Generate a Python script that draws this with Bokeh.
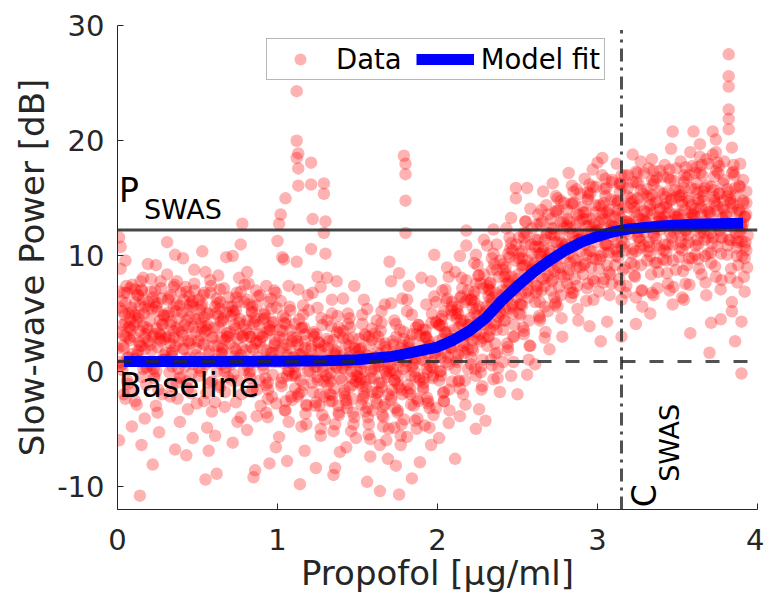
import math
from bokeh.plotting import figure
from bokeh.models import Range1d, Label, FixedTicker
from bokeh.embed import file_html
from bokeh.resources import INLINE

# ---------------- data ----------------
# scattered / outlying points
conc_a = [0.01,0.02,0.03,0.04,0.05,0.06,0.07,0.08,0.09,0.02,0.04,0.06,0.08,0.03,0.05,0.07,0.09,0.01,0.05,0.08,
          0.11,0.12,0.13,0.14,0.15,0.16,0.17,0.18,0.19,0.12,0.14,0.16,0.18,0.11,0.13,0.15,0.17,0.19,0.14,0.16,
          0.21,0.22,0.23,0.24,0.25,0.26,0.27,0.28,0.29,0.22,0.24,0.26,0.28,0.21,0.23,0.25,0.27,0.29,
          0.31,0.32,0.33,0.34,0.35,0.36,0.37,0.38,0.39,0.32,0.34,0.36,0.38,0.31,0.33,0.35,0.37,0.39,
          0.41,0.42,0.43,0.44,0.45,0.46,0.47,0.48,0.49,0.42,0.44,0.46,0.48,0.41,0.43,0.45,0.47]
power_a = [11.6,10.8,5.2,3.1,-2.4,6.8,1.2,4.5,-4.8,8.9,2.0,-0.8,7.2,0.6,5.9,3.8,-1.6,-6.0,9.6,2.7,
           7.1,4.3,1.8,-10.8,-6.4,6.2,2.9,0.3,5.4,-2.9,3.5,8.1,-1.2,4.9,6.6,2.2,-4.1,9.3,0.9,3.9,
           6.9,3.0,-0.4,5.6,2.1,-5.3,7.8,4.1,1.4,-8.1,9.2,3.3,-2.0,0.5,6.0,-3.6,2.6,4.8,
           11.2,5.1,2.4,-1.3,7.3,10.1,3.8,0.2,-4.4,6.4,1.6,-6.8,4.6,8.4,-2.2,2.9,5.8,-0.6,
           9.8,4.0,1.1,-3.3,6.5,2.7,-5.8,7.6,3.4,0.4,5.3,-1.9,8.8,2.0,-7.3,4.7,6.1]

conc_b = [0.51,0.52,0.53,0.54,0.55,0.56,0.57,0.58,0.59,0.52,0.54,0.56,0.58,0.51,0.53,0.55,0.57,
          0.61,0.62,0.63,0.64,0.65,0.66,0.67,0.68,0.69,0.62,0.64,0.66,0.68,0.61,0.63,0.65,0.67,
          0.71,0.72,0.73,0.74,0.75,0.76,0.77,0.78,0.79,0.72,0.74,0.76,0.78,0.71,0.73,0.75,0.77,
          0.81,0.82,0.83,0.84,0.85,0.86,0.87,0.88,0.89,0.82,0.84,0.86,0.88,0.81,0.83,0.85,0.87,
          0.91,0.92,0.93,0.94,0.95,0.96,0.97,0.98,0.99,0.92,0.94,0.96,0.98,0.91,0.93,0.95,0.97]
power_b = [6.2,3.1,10.4,-2.6,-9.4,5.0,1.5,7.9,-0.9,4.2,2.3,-4.9,6.8,0.3,3.7,8.6,-6.9,
           5.6,-8.9,2.2,7.1,0.6,4.4,-3.1,9.9,3.0,6.3,-1.4,1.8,5.1,-5.6,8.3,2.9,0.0,
           4.8,10.0,1.3,-2.7,6.0,3.2,11.0,12.8,0.1,-6.2,5.3,8.1,2.0,-0.8,4.0,-4.4,6.9,
           8.6,3.3,-0.6,5.2,1.9,-8.6,-3.9,6.5,2.6,7.6,-1.8,4.3,0.8,-5.1,3.0,-9.2,5.7,
           4.5,1.0,7.4,-2.4,3.6,6.3,-0.3,2.2,-6.6,5.0,-4.0,1.6,7.0,3.0,-1.2,-8.0,4.2]

conc_c = [1.00,1.02,1.04,1.05,1.01,1.03,1.05,1.07,1.09,1.02,1.04,1.06,1.08,1.01,1.03,1.05,1.07,1.09,1.06,1.08,
          1.12,1.12,1.13,1.12,1.13,1.13,1.12,1.13,1.11,1.14,1.15,1.16,1.17,1.18,1.19,1.11,1.15,1.17,1.19,1.14,1.16,1.18,
          1.21,1.21,1.22,1.21,1.25,1.22,1.23,1.24,1.25,1.26,1.27,1.28,1.29,1.22,1.24,1.26,1.28,1.23,1.27,
          1.29,1.29,1.30,1.29,1.30,1.31,1.32,1.33,1.34,1.35,1.36,1.37,1.38,1.39,1.32,1.34,1.36,1.38,1.31,1.35,
          1.41,1.42,1.43,1.44,1.45,1.46,1.47,1.48,1.49,1.42,1.44,1.46,1.48,1.41,1.43,1.45,1.47,1.37,1.36]
power_c = [11.3,13.6,9.7,15.0,12.8,9.9,4.6,1.2,-2.5,6.1,2.8,-0.4,5.3,-5.7,3.5,-3.4,7.4,0.7,-7.8,2.0,
           24.3,20.0,18.9,18.5,17.6,16.1,9.5,7.1,4.1,1.5,-1.8,5.7,2.6,-4.6,6.6,-0.2,3.7,-6.9,0.9,-9.8,4.9,-2.9,
           18.1,16.2,13.2,10.6,8.2,3.2,0.4,-2.7,5.5,1.9,-5.0,4.0,-0.9,6.8,-8.4,2.5,-3.8,0.9,7.3,
           16.3,15.4,13.0,12.0,10.2,4.4,1.0,-2.0,6.2,2.7,-4.6,0.3,3.8,-7.0,-0.6,5.0,1.8,-3.0,8.1,-9.0,
           3.5,0.2,-2.8,5.0,1.6,-5.2,2.9,7.4,-0.9,-1.7,4.1,0.8,-4.0,6.3,-6.6,2.2,-2.4,7.8,-8.4]

conc_d = [1.51,1.52,1.53,1.54,1.55,1.56,1.57,1.58,1.59,1.52,1.54,1.56,1.58,1.51,1.53,1.55,1.57,
          1.61,1.62,1.63,1.64,1.65,1.66,1.67,1.68,1.69,1.62,1.64,1.66,1.68,1.61,1.63,1.65,1.67,
          1.70,1.71,1.76,1.71,1.72,1.73,1.74,1.75,1.76,1.77,1.78,1.79,1.72,1.74,1.76,1.78,1.73,1.77,1.76,
          1.79,1.80,1.80,1.80,1.80,1.81,1.82,1.83,1.84,1.85,1.86,1.87,1.88,1.89,1.82,1.84,1.86,1.88,1.81,
          1.91,1.92,1.93,1.94,1.95,1.96,1.97,1.98,1.99,1.92,1.94,1.96,1.98,1.91,1.93,1.95,1.97,1.90,1.84]
power_d = [2.8,-0.7,4.9,6.2,-3.5,-9.6,1.3,-5.9,3.7,0.2,-2.2,5.4,-7.4,1.9,-1.3,3.1,-4.6,
           3.3,-1.9,0.8,-10.4,5.2,-4.8,2.1,-0.2,-7.6,4.4,1.5,-3.1,-6.0,0.4,3.0,-1.0,5.8,
           9.5,7.8,8.5,5.9,2.6,-0.8,4.1,-3.6,1.2,-6.4,-2.0,3.4,0.1,-8.2,-10.7,6.3,-4.9,2.0,-1.4,
           18.7,18.0,17.1,14.8,12.0,6.2,2.4,-1.5,4.9,0.6,-4.3,3.2,-2.6,-7.9,7.4,1.7,-0.5,4.0,-5.7,
           3.6,0.9,5.8,-2.8,2.2,7.8,-0.6,10.1,4.3,-4.7,1.5,-6.4,6.5,-1.6,3.0,-3.2,0.3,8.1,-9.3]

conc_e = [2.01,2.02,2.03,2.04,2.05,2.06,2.07,2.08,2.09,2.02,2.04,2.06,2.08,2.01,2.03,2.05,2.07,2.09,
          2.11,2.12,2.13,2.14,2.15,2.16,2.17,2.18,2.18,2.18,2.19,2.12,2.14,2.16,2.11,2.13,2.15,2.17,2.19,
          2.21,2.22,2.23,2.24,2.25,2.26,2.27,2.28,2.29,2.22,2.24,2.26,2.28,2.21,2.23,2.25,2.27,2.29,2.24,
          2.30,2.31,2.32,2.33,2.34,2.35,2.36,2.37,2.38,2.39,2.32,2.34,2.36,2.38,2.31,2.33,2.35,2.37,2.39,
          2.41,2.42,2.43,2.44,2.45,2.46,2.46,2.47,2.48,2.49,2.49,2.50,2.42,2.44,2.46,2.48,2.41,2.43,2.45,2.47]
power_e = [4.0,1.2,7.0,-1.8,3.3,9.0,-4.5,2.1,5.6,0.0,-2.6,6.3,2.8,-5.8,4.8,1.6,8.2,-0.9,
           -7.6,4.6,1.4,10.0,6.5,-2.0,3.2,12.2,10.9,7.9,0.2,5.3,-3.9,2.5,8.6,-0.9,4.1,6.0,1.9,
           6.2,2.7,9.4,-5.0,4.8,-3.3,7.6,1.0,11.4,5.5,3.4,8.3,-1.3,0.6,6.9,4.2,-0.1,2.9,10.1,
           -4.3,10.9,7.1,3.6,5.9,12.3,1.5,8.8,4.7,-1.8,6.5,9.8,2.4,0.3,4.0,7.7,-0.7,11.0,5.2,
           9.3,5.4,12.4,2.1,7.6,13.3,-0.4,10.5,4.0,15.9,15.0,-2.0,8.2,6.4,11.1,3.0,0.8,7.0,9.9,5.8]

conc_f = [2.51,2.52,2.53,2.54,2.55,2.56,2.56,2.57,2.58,2.59,2.52,2.54,2.56,2.58,2.51,2.53,2.55,2.57,2.59,
          2.61,2.62,2.63,2.64,2.65,2.66,2.67,2.68,2.69,2.62,2.64,2.66,2.68,2.61,2.63,2.65,2.67,2.69,2.70,
          2.71,2.72,2.73,2.74,2.75,2.76,2.77,2.78,2.79,2.72,2.74,2.76,2.78,2.71,2.73,2.75,2.77,2.79,
          2.81,2.82,2.83,2.84,2.85,2.86,2.87,2.88,2.89,2.82,2.84,2.86,2.88,2.81,2.83,2.85,2.87,2.89,
          2.91,2.92,2.93,2.94,2.95,2.96,2.97,2.98,2.99,2.92,2.94,2.96,2.98,2.91,2.93,2.95,2.97,2.99]
power_f = [11.6,6.7,9.2,3.5,13.0,15.9,-0.3,8.1,14.1,10.2,4.9,12.0,7.5,2.2,9.8,5.7,11.0,1.0,8.7,
           10.8,7.4,13.6,4.6,9.9,15.6,2.9,11.8,8.3,12.7,6.0,10.4,14.4,0.6,9.1,7.0,11.4,5.2,1.9,
           11.9,16.3,8.7,13.9,5.6,10.5,14.8,3.0,12.4,9.6,15.2,7.3,11.1,13.2,6.4,10.0,12.9,8.2,
           12.6,17.2,9.4,14.5,6.8,11.3,15.8,4.4,13.0,10.2,16.1,8.0,12.0,14.0,7.2,10.8,13.6,9.0,
           13.2,16.7,10.1,14.9,3.9,12.2,17.5,7.8,13.8,11.0,15.5,9.0,12.8,14.3,6.1,11.6,16.0,9.7]

conc_g = [3.00,3.01,3.02,3.03,3.04,3.05,3.06,3.07,3.08,3.09,3.02,3.04,3.06,3.08,3.01,3.03,3.05,3.07,3.09,
          3.11,3.12,3.13,3.14,3.15,3.16,3.17,3.18,3.19,3.12,3.14,3.16,3.18,3.11,3.13,3.15,3.17,3.19,3.15,
          3.21,3.22,3.23,3.24,3.25,3.26,3.27,3.28,3.29,3.22,3.24,3.26,3.28,3.21,3.23,3.25,3.27,3.29,3.24,
          3.31,3.32,3.33,3.34,3.35,3.36,3.37,3.38,3.39,3.32,3.34,3.36,3.38,3.31,3.33,3.35,3.37,3.39,3.35,
          3.41,3.42,3.43,3.44,3.45,3.46,3.47,3.47,3.48,3.49,3.42,3.44,3.46,3.48,3.41,3.43,3.45,3.47,3.49]
power_g = [18.1,12.9,2.6,18.5,10.3,15.2,4.3,13.6,8.4,16.4,11.7,14.6,9.2,12.2,6.9,17.0,11.0,14.0,7.6,
           13.4,18.0,9.9,15.6,3.0,12.7,17.0,7.4,14.2,11.2,16.3,8.8,13.0,10.6,14.8,6.2,12.1,15.9,10.8,
           12.5,18.8,9.2,4.1,15.0,11.6,18.2,7.0,13.9,16.4,10.4,13.2,5.6,14.6,8.3,12.1,15.7,10.9,17.3,
           13.8,17.6,10.0,15.3,6.6,12.4,16.8,8.6,14.1,11.2,18.4,9.4,13.0,15.8,5.0,12.0,14.7,10.6,16.2,
           14.2,17.9,10.3,15.6,7.0,19.3,20.8,12.7,16.5,8.8,13.4,11.0,14.9,12.0,16.9,9.6,13.0,5.8,15.1]

conc_h = [3.51,3.52,3.53,3.54,3.55,3.56,3.57,3.58,3.59,3.52,3.54,3.56,3.58,3.51,3.53,3.55,3.57,3.58,3.55,3.59,
          3.60,3.61,3.62,3.63,3.64,3.65,3.66,3.67,3.68,3.69,3.62,3.64,3.66,3.68,3.61,3.63,3.65,3.67,3.69,3.64,
          3.70,3.71,3.72,3.73,3.74,3.75,3.76,3.77,3.78,3.79,3.71,3.72,3.74,3.76,3.78,3.71,3.73,3.75,3.77,3.79,3.74,
          3.82,3.82,3.82,3.82,3.82,3.82,3.84,3.81,3.83,3.85,3.86,3.87,3.88,3.89,3.81,3.83,3.85,3.87,3.89,3.84,3.86,3.88,
          3.90,3.91,3.92,3.93,3.90,3.92,3.91,3.93,3.90,3.92]
power_h = [13.6,18.2,10.5,15.9,7.6,12.9,17.0,3.3,14.4,11.8,16.4,9.2,13.3,15.2,6.4,12.2,14.8,19.0,11.0,9.8,
           20.8,14.1,17.7,11.0,19.7,8.4,15.6,13.0,18.4,10.2,16.3,12.4,14.8,6.6,17.2,9.7,13.6,15.9,11.6,12.0,
           1.6,4.2,20.8,14.6,20.1,10.8,17.8,4.5,13.3,16.6,12.0,18.8,8.2,15.4,11.6,9.4,16.9,13.9,7.1,14.8,12.7,
           27.5,25.6,24.7,22.7,21.9,21.0,19.4,15.2,11.4,17.3,2.6,13.8,9.2,16.0,12.6,8.1,14.5,10.7,12.1,6.0,15.9,11.2,
           -0.2,12.8,9.8,14.6,11.3,6.9,16.6,10.5,4.3,13.4]

# dense core of the cloud
core_conc_1 = [
    0.005,0.015,0.025,0.035,0.045,0.055,0.065,0.075,0.085,0.095,0.01,0.03,0.05,0.07,0.09,0.04,
    0.105,0.115,0.125,0.135,0.145,0.155,0.165,0.175,0.185,0.195,0.11,0.13,0.15,0.17,0.19,0.14,
    0.205,0.215,0.225,0.235,0.245,0.255,0.265,0.275,0.285,0.295,0.21,0.23,0.25,0.27,0.29,0.24,
    0.305,0.315,0.325,0.335,0.345,0.355,0.365,0.375,0.385,0.395,0.31,0.33,0.35,0.37,0.39,0.34,
    0.405,0.415,0.425,0.435,0.445,0.455,0.465,0.475,0.485,0.495,0.41,0.43,0.45,0.47,0.49,0.44,
    0.505,0.515,0.525,0.535,0.545,0.555,0.565,0.575,0.585,0.595,0.51,0.53,0.55,0.57,0.59,0.54,
    0.605,0.615,0.625,0.635,0.645,0.655,0.665,0.675,0.685,0.695,0.61,0.63,0.65,0.67,0.69,0.64,
    0.705,0.715,0.725,0.735,0.745,0.755,0.765,0.775,0.785,0.795,0.71,0.73,0.75,0.77,0.79,0.74,
    0.805,0.815,0.825,0.835,0.845,0.855,0.865,0.875,0.885,0.895,0.81,0.83,0.85,0.87,0.89,0.84,
    0.905,0.915,0.925,0.935,0.945,0.955,0.965,0.975,0.985,0.995,0.91,0.93,0.95,0.97,0.99,0.94,
    1.005,1.015,1.025,1.035,1.045,1.055,1.065,1.075,1.085,1.095,1.01,1.03,1.05,1.07,1.09,1.04,
    1.105,1.115,1.125,1.135,1.145,1.155,1.165,1.175,1.185,1.195,1.11,1.13,1.15,1.17,1.19,1.14,
    1.205,1.215,1.225,1.235,1.245,1.255,1.265,1.275,1.285,1.295,1.21,1.23,1.25,1.27,1.29,1.24,
    1.305,1.315,1.325,1.335,1.345,1.355,1.365,1.375,1.385,1.395,1.31,1.33,1.35,1.37,1.39,1.34,
    1.405,1.415,1.425,1.435,1.445,1.455,1.465,1.475,1.485,1.495,1.41,1.43,1.45,1.47,1.49,1.44,
    1.505,1.515,1.525,1.535,1.545,1.555,1.565,1.575,1.585,1.595,1.51,1.53,1.55,1.57,1.59,1.54,
    1.605,1.615,1.625,1.635,1.645,1.655,1.665,1.675,1.685,1.695,1.61,1.63,1.65,1.67,1.69,1.64,
    1.705,1.715,1.725,1.735,1.745,1.755,1.765,1.775,1.785,1.795,1.71,1.73,1.75,1.77,1.79,1.74,
    1.805,1.815,1.825,1.835,1.845,1.855,1.865,1.875,1.885,1.895,1.81,1.83,1.85,1.87,1.89,1.84,
    1.905,1.915,1.925,1.935,1.945,1.955,1.965,1.975,1.985,1.995,1.91,1.93,1.95,1.97,1.99,1.94]
core_power_1 = [
    3.4,0.8,6.1,2.2,4.9,7.4,-1.1,3.9,5.5,1.5,6.9,0.1,4.2,2.9,5.1,-2.0,
    4.0,1.1,6.6,2.5,7.8,-0.5,5.0,3.2,0.4,6.0,-2.6,4.6,7.1,1.9,3.6,5.7,
    2.3,5.4,0.2,7.0,3.7,-1.6,4.4,6.3,1.0,2.8,8.0,-0.6,5.9,3.1,4.9,-3.0,
    3.0,6.2,-0.1,4.3,1.8,7.5,5.2,-2.4,2.6,6.8,0.9,4.0,3.5,-1.0,5.7,1.3,
    5.1,1.9,7.3,-0.9,3.8,2.4,6.0,0.6,4.5,-2.8,3.1,6.9,1.2,5.6,2.0,-1.5,
    2.6,5.3,0.0,6.6,3.4,-1.9,4.0,1.7,7.4,2.9,-0.4,5.8,3.9,0.8,-3.5,4.7,
    3.8,1.0,5.9,-1.2,4.3,2.0,7.2,0.3,3.3,6.4,-2.7,4.8,1.5,2.7,-0.5,5.4,
    2.4,5.6,-0.3,3.7,6.8,1.1,4.5,-2.0,3.0,7.5,0.6,5.0,2.8,-4.0,4.0,1.8,
    3.6,0.4,5.8,2.1,-1.5,4.6,7.0,1.2,3.2,-3.0,6.2,0.0,4.1,2.6,-0.8,5.1,
    2.0,4.9,-0.6,3.4,6.0,1.2,-2.2,4.3,2.7,5.5,0.5,-3.6,3.9,1.6,6.8,-1.0,
    1.0,3.6,-1.3,4.8,-3.4,2.3,0.1,5.6,-2.2,3.0,1.8,-0.6,4.1,-4.4,2.6,0.7,
    0.4,2.9,-2.2,4.5,-0.8,1.6,3.8,-3.7,0.9,5.3,-1.5,2.3,-4.8,3.2,0.0,1.4,
    1.2,-1.0,3.4,-3.0,0.4,2.5,-2.0,4.6,0.0,-4.2,1.9,3.0,-0.5,-5.6,2.2,0.8,
    -0.4,2.0,-2.6,3.9,0.6,-1.5,1.4,4.8,-3.8,0.9,2.8,-0.9,-5.2,1.7,3.3,-2.1,
    0.3,-1.9,2.4,-3.2,1.2,3.8,-0.6,-4.6,1.9,0.0,2.9,-2.5,4.6,-1.2,-5.8,0.8,
    -0.5,1.8,-2.9,0.7,3.2,-1.4,-4.0,2.3,0.0,-3.4,1.3,4.1,-0.9,-5.5,2.7,-1.9,
    0.2,-2.4,1.6,-1.0,3.5,-3.8,0.8,2.4,-0.5,-5.0,1.2,-1.8,4.2,-2.9,0.4,-6.4,
    0.6,-1.6,2.3,-3.2,1.0,-0.4,3.6,-4.6,0.2,1.8,-2.5,4.4,-1.1,-5.6,2.8,-0.2,
    0.9,-1.2,2.6,-2.9,1.5,0.0,3.8,-4.1,-0.6,2.2,5.2,-2.0,1.1,-5.0,3.1,0.4,
    1.8,-0.6,3.6,-2.3,2.6,0.4,5.0,-3.8,1.2,4.2,-1.4,2.9,-4.9,0.8,6.0,-0.1]

core_conc_2 = [
    2.005,2.015,2.025,2.035,2.045,2.055,2.065,2.075,2.085,2.095,2.01,2.03,2.05,2.07,2.09,2.04,
    2.105,2.115,2.125,2.135,2.145,2.155,2.165,2.175,2.185,2.195,2.11,2.13,2.15,2.17,2.19,2.14,
    2.205,2.215,2.225,2.235,2.245,2.255,2.265,2.275,2.285,2.295,2.21,2.23,2.25,2.27,2.29,2.24,
    2.305,2.315,2.325,2.335,2.345,2.355,2.365,2.375,2.385,2.395,2.31,2.33,2.35,2.37,2.39,2.34,
    2.405,2.415,2.425,2.435,2.445,2.455,2.465,2.475,2.485,2.495,2.41,2.43,2.45,2.47,2.49,2.44,
    2.505,2.515,2.525,2.535,2.545,2.555,2.565,2.575,2.585,2.595,2.51,2.53,2.55,2.57,2.59,2.54,
    2.605,2.615,2.625,2.635,2.645,2.655,2.665,2.675,2.685,2.695,2.61,2.63,2.65,2.67,2.69,2.64,
    2.705,2.715,2.725,2.735,2.745,2.755,2.765,2.775,2.785,2.795,2.71,2.73,2.75,2.77,2.79,2.74,
    2.805,2.815,2.825,2.835,2.845,2.855,2.865,2.875,2.885,2.895,2.81,2.83,2.85,2.87,2.89,2.84,
    2.905,2.915,2.925,2.935,2.945,2.955,2.965,2.975,2.985,2.995,2.91,2.93,2.95,2.97,2.99,2.94,
    3.005,3.015,3.025,3.035,3.045,3.055,3.065,3.075,3.085,3.095,3.01,3.03,3.05,3.07,3.09,3.04,
    3.105,3.115,3.125,3.135,3.145,3.155,3.165,3.175,3.185,3.195,3.11,3.13,3.15,3.17,3.19,3.14,
    3.205,3.215,3.225,3.235,3.245,3.255,3.265,3.275,3.285,3.295,3.21,3.23,3.25,3.27,3.29,3.24,
    3.305,3.315,3.325,3.335,3.345,3.355,3.365,3.375,3.385,3.395,3.31,3.33,3.35,3.37,3.39,3.34,
    3.405,3.415,3.425,3.435,3.445,3.455,3.465,3.475,3.485,3.495,3.41,3.43,3.45,3.47,3.49,3.44,
    3.505,3.515,3.525,3.535,3.545,3.555,3.565,3.575,3.585,3.595,3.51,3.53,3.55,3.57,3.59,3.54,
    3.605,3.615,3.625,3.635,3.645,3.655,3.665,3.675,3.685,3.695,3.61,3.63,3.65,3.67,3.69,3.64,
    3.705,3.715,3.725,3.735,3.745,3.755,3.765,3.775,3.785,3.795,3.71,3.73,3.75,3.77,3.79,3.74,
    3.805,3.815,3.825,3.835,3.845,3.855,3.865,3.875,3.885,3.895,3.81,3.83,3.85,3.87,3.89,3.84,
    3.900,3.905,3.910,3.915,3.920,3.925,3.930,3.935]
core_power_2 = [
    2.6,0.0,4.5,-1.9,3.4,6.1,1.2,-3.4,5.3,2.0,-0.8,3.9,7.1,0.6,4.9,-2.6,
    3.6,1.0,5.6,-0.8,4.4,7.2,2.2,-2.9,6.2,3.0,0.2,5.0,8.1,1.6,4.0,-1.5,
    4.6,2.0,6.6,0.2,5.4,8.3,3.2,-1.6,7.2,4.0,1.2,6.0,9.2,2.6,5.0,-0.4,
    5.6,3.0,7.6,1.0,6.4,9.3,4.2,-0.6,8.2,5.0,2.2,7.0,10.2,3.6,6.0,0.5,
    7.0,4.4,9.0,2.4,7.8,10.6,5.6,0.8,9.6,6.4,3.6,8.4,11.6,5.0,7.4,1.8,
    8.4,5.8,10.4,3.8,9.2,12.0,7.0,2.2,11.0,7.8,5.0,9.8,13.0,6.4,8.8,3.2,
    9.4,6.8,11.4,4.8,10.2,13.0,8.0,3.4,12.0,8.8,6.0,10.8,14.0,7.4,9.8,4.4,
    10.4,7.8,12.4,5.8,11.2,14.0,9.0,4.6,13.0,9.8,7.0,11.8,15.0,8.4,10.8,6.0,
    11.0,8.4,13.0,6.4,11.8,14.6,9.6,5.4,13.6,10.4,7.6,12.4,15.6,9.0,11.4,6.8,
    11.8,9.2,13.8,7.2,12.6,15.4,10.4,6.2,14.4,11.2,8.4,13.2,16.2,9.8,12.2,7.6,
    12.3,9.7,14.3,7.7,13.1,15.9,10.9,6.6,14.9,11.7,8.9,13.7,16.7,10.3,12.7,8.0,
    12.5,10.0,14.6,8.0,13.3,16.1,11.1,6.8,15.2,11.9,9.2,14.0,17.0,10.5,12.9,7.4,
    12.7,10.2,14.8,8.2,13.5,16.3,11.3,7.0,15.4,12.1,9.4,14.2,17.2,10.7,13.1,6.4,
    12.9,10.4,15.0,8.4,13.7,16.5,11.5,7.2,15.6,12.3,9.6,14.4,17.4,10.9,13.3,6.8,
    13.0,10.5,15.1,8.5,13.8,16.6,11.6,7.3,15.7,12.4,9.7,14.5,17.5,11.0,13.4,7.6,
    13.2,10.7,15.3,8.7,14.0,16.8,11.8,7.5,15.9,12.6,9.9,14.7,17.7,11.2,13.6,6.2,
    13.4,10.9,15.5,8.9,14.2,17.0,12.0,7.7,16.1,12.8,10.1,14.9,17.9,11.4,13.8,18.6,
    13.6,11.1,15.7,9.1,14.4,17.2,12.2,7.9,16.3,13.0,10.3,15.1,18.1,11.6,14.0,19.0,
    13.4,10.9,15.5,8.9,14.2,17.0,12.0,7.7,16.1,12.8,10.1,14.9,17.9,11.4,13.8,5.2,
    12.6,10.0,14.8,8.2,13.4,11.2,15.6,9.0]

# densest band
core_conc_3 = [
    0.002,0.012,0.022,0.032,0.042,0.052,0.062,0.072,0.082,0.092,
    0.102,0.112,0.122,0.132,0.142,0.152,0.162,0.172,0.182,0.192,
    0.202,0.212,0.222,0.232,0.242,0.252,0.262,0.272,0.282,0.292,
    0.302,0.312,0.322,0.332,0.342,0.352,0.362,0.372,0.382,0.392,
    0.402,0.412,0.422,0.432,0.442,0.452,0.462,0.472,0.482,0.492,
    0.502,0.512,0.522,0.532,0.542,0.552,0.562,0.572,0.582,0.592,
    0.602,0.612,0.622,0.632,0.642,0.652,0.662,0.672,0.682,0.692,
    0.702,0.712,0.722,0.732,0.742,0.752,0.762,0.772,0.782,0.792,
    0.802,0.812,0.822,0.832,0.842,0.852,0.862,0.872,0.882,0.892,
    0.902,0.912,0.922,0.932,0.942,0.952,0.962,0.972,0.982,0.992,
    1.002,1.012,1.022,1.032,1.042,1.052,1.062,1.072,1.082,1.092,
    1.102,1.112,1.122,1.132,1.142,1.152,1.162,1.172,1.182,1.192,
    1.202,1.212,1.222,1.232,1.242,1.252,1.262,1.272,1.282,1.292,
    1.302,1.312,1.322,1.332,1.342,1.352,1.362,1.372,1.382,1.392,
    1.402,1.412,1.422,1.432,1.442,1.452,1.462,1.472,1.482,1.492,
    1.502,1.512,1.522,1.532,1.542,1.552,1.562,1.572,1.582,1.592,
    1.602,1.612,1.622,1.632,1.642,1.652,1.662,1.672,1.682,1.692,
    1.702,1.712,1.722,1.732,1.742,1.752,1.762,1.772,1.782,1.792,
    1.802,1.812,1.822,1.832,1.842,1.852,1.862,1.872,1.882,1.892,
    1.902,1.912,1.922,1.932,1.942,1.952,1.962,1.972,1.982,1.992,
    2.002,2.012,2.022,2.032,2.042,2.052,2.062,2.072,2.082,2.092,
    2.102,2.112,2.122,2.132,2.142,2.152,2.162,2.172,2.182,2.192,
    2.202,2.212,2.222,2.232,2.242,2.252,2.262,2.272,2.282,2.292,
    2.302,2.312,2.322,2.332,2.342,2.352,2.362,2.372,2.382,2.392,
    2.402,2.412,2.422,2.432,2.442,2.452,2.462,2.472,2.482,2.492,
    2.502,2.512,2.522,2.532,2.542,2.552,2.562,2.572,2.582,2.592,
    2.602,2.612,2.622,2.632,2.642,2.652,2.662,2.672,2.682,2.692,
    2.702,2.712,2.722,2.732,2.742,2.752,2.762,2.772,2.782,2.792,
    2.802,2.812,2.822,2.832,2.842,2.852,2.862,2.872,2.882,2.892,
    2.902,2.912,2.922,2.932,2.942,2.952,2.962,2.972,2.982,2.992,
    3.002,3.012,3.022,3.032,3.042,3.052,3.062,3.072,3.082,3.092,
    3.102,3.112,3.122,3.132,3.142,3.152,3.162,3.172,3.182,3.192,
    3.202,3.212,3.222,3.232,3.242,3.252,3.262,3.272,3.282,3.292,
    3.302,3.312,3.322,3.332,3.342,3.352,3.362,3.372,3.382,3.392,
    3.402,3.412,3.422,3.432,3.442,3.452,3.462,3.472,3.482,3.492,
    3.502,3.512,3.522,3.532,3.542,3.552,3.562,3.572,3.582,3.592,
    3.602,3.612,3.622,3.632,3.642,3.652,3.662,3.672,3.682,3.692,
    3.702,3.712,3.722,3.732,3.742,3.752,3.762,3.772,3.782,3.792,
    3.802,3.812,3.822,3.832,3.842,3.852,3.862,3.872,3.882,3.892,
    3.902,3.911,3.920,3.929,3.938]
core_power_3 = [
    2.0,5.5,0.5,4.0,6.8,3.0,1.2,5.0,3.6,7.5,
    3.0,6.0,1.4,4.8,2.2,7.0,0.2,5.6,3.8,2.6,
    4.4,1.8,6.4,3.2,0.0,5.2,2.8,7.2,4.0,1.0,
    1.6,4.8,3.0,6.6,0.4,5.6,2.2,7.8,3.6,-0.5,
    3.4,6.2,0.8,4.4,2.6,5.8,-0.2,3.8,7.0,1.4,
    4.6,1.2,5.6,2.4,6.8,0.6,3.6,5.0,-1.0,3.0,
    2.2,5.0,0.0,3.8,6.0,1.6,4.6,-1.8,3.0,5.6,
    3.4,0.8,5.2,2.0,6.4,-0.8,4.2,1.4,3.0,6.0,
    1.8,4.4,-0.2,3.0,5.6,0.8,2.4,-1.6,4.0,6.6,
    3.0,0.2,4.6,1.8,-1.6,3.6,5.4,0.8,2.4,-2.8,
    0.8,3.0,-1.0,2.0,4.2,-2.6,1.4,0.0,3.6,-0.4,
    1.2,-0.4,2.6,-2.0,0.6,3.8,-1.2,2.0,-3.0,1.0,
    0.0,2.2,-1.8,1.0,3.2,-0.8,-3.0,1.8,0.4,-2.2,
    1.0,-1.2,2.6,-0.2,-2.6,1.6,0.4,3.4,-3.6,-0.6,
    -0.8,1.4,-2.2,0.6,2.8,-1.4,0.0,-3.6,2.0,-0.4,
    0.8,-1.0,2.0,-2.4,0.0,1.4,-3.2,3.0,-0.6,-1.8,
    -0.6,1.2,-2.8,0.4,2.4,-1.4,-4.0,0.0,1.8,-2.0,
    0.0,-2.2,1.6,-0.8,3.0,-3.4,0.8,-1.6,2.2,-4.2,
    0.4,-1.8,2.0,-0.4,3.2,-3.0,1.0,-2.4,4.0,-0.8,
    1.0,-1.0,3.0,0.2,-2.6,2.2,4.2,-0.4,1.6,-3.2,
    1.8,4.0,-0.4,2.8,5.2,0.8,3.4,-1.6,2.0,6.0,
    2.8,5.0,0.8,3.8,6.4,1.8,4.4,-0.8,3.2,7.0,
    4.0,6.2,1.8,5.0,7.6,2.8,5.6,0.4,4.4,8.4,
    5.2,7.4,3.0,6.2,8.8,4.0,6.8,1.6,5.6,9.6,
    6.6,8.8,4.4,7.6,10.2,5.4,8.2,3.0,7.0,11.0,
    8.0,10.2,5.8,9.0,11.6,6.8,9.6,4.4,8.4,12.4,
    9.2,11.4,7.0,10.2,12.8,8.0,10.8,5.6,9.6,13.6,
    10.2,12.4,8.0,11.2,13.8,9.0,11.8,6.6,10.6,14.6,
    11.0,13.2,8.8,12.0,14.6,9.8,12.6,7.4,11.4,15.4,
    11.6,13.8,9.4,12.6,15.2,10.4,13.2,8.0,12.0,16.0,
    12.2,14.4,10.0,13.2,15.8,11.0,13.8,8.6,12.6,16.6,
    12.6,14.8,10.4,13.6,16.2,11.4,14.2,9.0,13.0,17.0,
    12.8,15.0,10.6,13.8,16.4,11.6,14.4,9.2,13.2,17.2,
    13.0,15.2,10.8,14.0,16.6,11.8,14.6,9.4,13.4,17.4,
    13.2,15.4,11.0,14.2,16.8,12.0,14.8,9.6,13.6,17.6,
    13.4,15.6,11.2,14.4,17.0,12.2,15.0,9.8,13.8,17.8,
    13.6,15.8,11.4,14.6,17.2,12.4,15.2,10.0,14.0,18.0,
    13.8,16.0,11.6,14.8,17.4,12.6,15.4,10.2,14.2,18.2,
    13.6,15.8,11.4,14.6,17.2,12.4,15.2,10.0,14.0,18.0,
    12.4,14.6,10.8,13.6,11.8]

# model fit
fit_conc = [0.04, 0.5, 1.0, 1.3, 1.5, 1.7, 1.8, 1.9, 2.0, 2.1, 2.2, 2.3, 2.4, 2.5, 2.6,
            2.7, 2.8, 2.9, 3.0, 3.1, 3.2, 3.4, 3.6, 3.91]
fit_power = [0.85, 0.85, 0.87, 0.9, 1.0, 1.25, 1.5, 1.8, 2.1, 2.7, 3.5, 4.6, 6.1, 7.4, 8.6,
             9.6, 10.5, 11.2, 11.7, 12.1, 12.35, 12.6, 12.75, 12.85]

p_swas = 12.25      # plateau power
baseline = 0.85     # baseline power
c_swas = 3.15       # concentration at SWAS

x_ticks = [0, 1, 2, 3, 4]
y_ticks = [-10, 0, 10, 20, 30]
y_tick_text = {-10: "-10", 0: "0", 10: "10", 20: "20", 30: "30"}

# ---------------- build ----------------
pairs = []
for cx, py in [(conc_a, power_a), (conc_b, power_b), (conc_c, power_c), (conc_d, power_d),
               (conc_e, power_e), (conc_f, power_f), (conc_g, power_g), (conc_h, power_h),
               (core_conc_1, core_power_1), (core_conc_2, core_power_2),
               (core_conc_3, core_power_3)]:
    pairs.extend(zip(cx, py))
xs = [a for a, b in pairs]
ys = [b for a, b in pairs]

FONT = "DejaVu Sans"
DARK = "#262626"

p = figure(width=764, height=596, output_backend="svg", toolbar_location=None,
           x_range=Range1d(0, 4), y_range=Range1d(-12, 30))
p.min_border_left = 117
p.min_border_right = 7
p.min_border_top = 25
p.min_border_bottom = 87
p.outline_line_color = None
p.xgrid.visible = False
p.ygrid.visible = False
p.background_fill_color = "white"
p.border_fill_color = "white"

p.xaxis.ticker = FixedTicker(ticks=x_ticks)
p.yaxis.ticker = FixedTicker(ticks=y_ticks)
p.yaxis.major_label_overrides = y_tick_text
for ax in (p.xaxis[0], p.yaxis[0]):
    ax.axis_line_color = DARK
    ax.axis_line_width = 1
    ax.major_tick_line_color = DARK
    ax.major_tick_in = 6
    ax.major_tick_out = 0
    ax.minor_tick_line_color = None
    ax.major_label_text_font = FONT
    ax.major_label_text_font_size = "29px"
    ax.major_label_text_color = DARK
    ax.axis_label_text_font = FONT
    ax.axis_label_text_font_size = "34px"
    ax.axis_label_text_font_style = "normal"
    ax.axis_label_text_color = DARK
p.xaxis.axis_label = "Propofol [µg/ml]"
p.yaxis.axis_label = "Slow-wave Power [dB]"
p.xaxis.major_label_standoff = 19
p.yaxis.major_label_standoff = 13
p.xaxis.axis_label_standoff = 0
p.yaxis.axis_label_standoff = 2

p.scatter(xs, ys, size=12.5, fill_color="red", fill_alpha=0.3, line_color=None,
          legend_label="Data")
p.line(fit_conc, fit_power, line_color="blue", line_width=11, line_cap="butt",
       legend_label="Model fit")

p.line([0, 4], [p_swas, p_swas], line_color="#262626", line_alpha=0.85, line_width=3)
p.line([0, 4], [baseline, baseline], line_color="#262626", line_alpha=0.8, line_width=3,
       line_dash="14 14")
p.line([c_swas, c_swas], [-12, 29.6], line_color="#262626", line_alpha=0.8, line_width=3,
       line_dash="13 6 3 6")

def lab(x, y, t, size, angle=0.0):
    p.add_layout(Label(x=x, y=y, text=t, text_font=FONT, text_font_size=size,
                       text_color="black", text_align="left", text_baseline="alphabetic",
                       angle=angle))

lab(0.01, 15.7, "P", "33px")
lab(0.165, 14.05, "SWAS", "27px")
lab(0.01, -1.2, "Baseline", "33px")
lab(3.294, -11.8, "C", "33px", math.pi / 2)
lab(3.45, -9.6, "SWAS", "27px", math.pi / 2)

lg = p.legend[0]
lg.orientation = "horizontal"
lg.location = (149, 429)
lg.label_text_font = FONT
lg.label_text_font_size = "27.5px"
lg.label_text_color = "black"
lg.border_line_color = "#707070"
lg.border_line_width = 1
lg.background_fill_color = "white"
lg.background_fill_alpha = 1.0
lg.padding = 4
lg.margin = 0
lg.glyph_width = 58
lg.glyph_height = 30
lg.label_standoff = 7
lg.spacing = 14

open("out.html", "w").write(file_html(p, INLINE))
